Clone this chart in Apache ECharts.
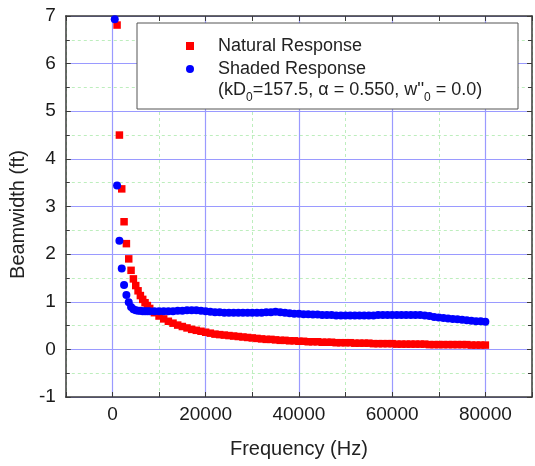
<!DOCTYPE html>
<html>
<head>
<meta charset="utf-8">
<script src="https://cdn.jsdelivr.net/npm/echarts@6/dist/echarts.min.js"></script>
<style>
html,body{margin:0;padding:0;background:#fff;}
#chart{width:535px;height:466px;}
</style>
</head>
<body>
<div id="chart"></div>
<script>
// Frequency (Hz) sample points
const freqs = [
  500,1000,1500,2000,2500,3000,3500,4000,4500,5000,5500,6000,6500,7000,7500,8000,
  9000,10000,11000,12000,13000,14000,15000,16000,
  17000,18000,19000,20000,21000,22000,23000,24000,
  25000,26000,27000,28000,29000,30000,31000,32000,
  33000,34000,35000,36000,37000,38000,39000,40000,
  41000,42000,43000,44000,45000,46000,47000,48000,
  49000,50000,51000,52000,53000,54000,55000,56000,
  57000,58000,59000,60000,61000,62000,63000,64000,
  65000,66000,67000,68000,69000,70000,71000,72000,
  73000,74000,75000,76000,77000,78000,79000,80000
];
// Natural Response beamwidth (ft)
const naturalValues = [
  null,6.81,4.50,3.37,2.68,2.22,1.90,1.66,1.48,1.34,1.23,1.13,1.05,0.98,0.92,0.86,
  0.77,0.70,0.64,0.59,0.55,0.51,0.48,0.45,
  0.42,0.40,0.38,0.36,0.34,0.32,0.31,0.30,
  0.29,0.28,0.27,0.26,0.25,0.24,0.23,0.22,
  0.21,0.21,0.20,0.19,0.19,0.18,0.18,0.17,
  0.17,0.16,0.16,0.16,0.15,0.15,0.15,0.14,
  0.14,0.14,0.14,0.13,0.13,0.13,0.13,0.12,
  0.12,0.12,0.12,0.12,0.11,0.11,0.11,0.11,
  0.11,0.11,0.11,0.10,0.10,0.10,0.10,0.10,
  0.10,0.10,0.10,0.10,0.09,0.09,0.09,0.09
];
// Shaded Response beamwidth (ft)
const shadedValues = [
  6.93,3.44,2.28,1.70,1.35,1.14,0.99,0.89,0.84,0.82,0.81,0.81,0.80,0.80,0.80,0.80,
  0.80,0.80,0.80,0.80,0.80,0.81,0.81,0.82,
  0.82,0.82,0.81,0.80,0.79,0.78,0.78,0.77,
  0.77,0.77,0.77,0.77,0.77,0.77,0.77,0.77,
  0.78,0.78,0.79,0.78,0.77,0.76,0.75,0.75,
  0.74,0.74,0.73,0.73,0.72,0.72,0.72,0.71,
  0.71,0.71,0.71,0.71,0.71,0.71,0.71,0.71,
  0.72,0.72,0.72,0.72,0.72,0.72,0.72,0.72,
  0.72,0.72,0.71,0.70,0.68,0.67,0.66,0.65,
  0.64,0.63,0.62,0.61,0.60,0.59,0.59,0.58
];
const seriesNames = ['Natural Response', 'Shaded Response'];
const xTickLabels = ['0','20000','40000','60000','80000'];
const xAxisTitle = 'Frequency (Hz)';
const yAxisTitle = 'Beamwidth (ft)';

const FONT = '"Liberation Sans", Arial, sans-serif';
const MAJOR = '#9a9aff';
const MINOR = '#bdeebd';
const FRAME = '#3a3a3a';

function pairs(vals){
  const out = [];
  freqs.forEach((f,i)=>{ if (vals[i] !== null) out.push([f, vals[i]]); });
  return out;
}

const chart = echarts.init(document.getElementById('chart'), null, {renderer:'canvas'});
const option = {
  animation: false,
  backgroundColor: '#fff',
  grid: {left: 63, right: 0, top: 16, bottom: 69, containLabel: false},
  xAxis: [
    {
      type: 'value', min: -10000, max: 90000, interval: 10000, position: 'bottom',
      name: xAxisTitle, nameLocation: 'middle', nameGap: 42,
      nameTextStyle: {fontSize: 20, color: '#222', fontFamily: FONT},
      axisLine: {show: true, onZero: false, lineStyle: {color: FRAME, width: 1.5}},
      axisTick: {show: true, inside: true, length: 5, lineStyle: {color: FRAME}},
      axisLabel: {
        margin: 8, fontSize: 19, color: '#1a1a1a', fontFamily: FONT,
        formatter: v => xTickLabels.indexOf(String(v)) >= 0 ? String(v) : ''
      },
      splitLine: {show: true, lineStyle: {color: ['rgba(0,0,0,0)', MAJOR], width: 1.2}}
    },
    {
      type: 'value', min: -10000, max: 90000, interval: 10000, position: 'top',
      axisLine: {show: true, onZero: false, lineStyle: {color: FRAME, width: 1.5}},
      axisTick: {show: true, inside: true, length: 5, lineStyle: {color: FRAME}},
      axisLabel: {show: false},
      splitLine: {show: true, lineStyle: {color: [MINOR, 'rgba(0,0,0,0)'], width: 1, type: [3,3]}}
    }
  ],
  yAxis: [
    {
      type: 'value', min: -1, max: 7, interval: 1, position: 'left',
      name: yAxisTitle, nameLocation: 'middle', nameGap: 36, nameRotate: 90,
      nameTextStyle: {fontSize: 20, color: '#222', fontFamily: FONT, padding: [0, 16, 0, 0]},
      axisLine: {show: true, onZero: false, lineStyle: {color: FRAME, width: 1.5}},
      axisTick: {show: true, inside: true, length: 5, lineStyle: {color: FRAME}},
      minorTick: {show: true, splitNumber: 2, length: 4, lineStyle: {color: FRAME}},
      axisLabel: {margin: 10, fontSize: 19, color: '#1a1a1a', fontFamily: FONT},
      splitLine: {show: true, lineStyle: {color: MAJOR, width: 1.2}},
      minorSplitLine: {show: true, lineStyle: {color: MINOR, width: 1, type: [3,3]}}
    },
    {
      type: 'value', min: -1, max: 7, interval: 1, position: 'right',
      axisLine: {show: true, onZero: false, lineStyle: {color: FRAME, width: 1.5}},
      axisTick: {show: true, inside: true, length: 5, lineStyle: {color: FRAME}},
      minorTick: {show: true, splitNumber: 2, length: 4, lineStyle: {color: FRAME}},
      axisLabel: {show: false},
      splitLine: {show: false}
    }
  ],
  legend: {
    orient: 'vertical', left: 181, top: 31, z: 20,
    itemWidth: 8, itemHeight: 8, itemGap: 3,
    textStyle: {fontSize: 18, color: '#222', fontFamily: FONT, lineHeight: 20, padding: [0,0,0,19]},
    data: [{name: seriesNames[0], icon: 'rect'}, {name: seriesNames[1], icon: 'circle'}]
  },
  graphic: [
    {
      type: 'rect', z: 10,
      shape: {x: 137, y: 23, width: 381, height: 86},
      style: {fill: '#fff', stroke: '#555', lineWidth: 1}
    },
    {
      type: 'text', z: 21, left: 218, top: 81,
      style: {
        text: '{n|(kD}{s|0}{n|=157.5, α = 0.550, w\'\'}{s|0}{n| = 0.0)}',
        rich: {
          n: {fontSize: 18, fontFamily: FONT, fill: '#222', lineHeight: 28, verticalAlign: 'middle'},
          s: {fontSize: 12, fontFamily: FONT, fill: '#222', lineHeight: 12, verticalAlign: 'bottom'}
        }
      }
    }
  ],
  series: [
    {
      name: seriesNames[0], type: 'scatter', xAxisIndex: 0, yAxisIndex: 0,
      symbol: 'rect', symbolSize: 7.5,
      itemStyle: {color: '#ff0000', opacity: 1},
      data: pairs(naturalValues), z: 3
    },
    {
      name: seriesNames[1], type: 'scatter', xAxisIndex: 0, yAxisIndex: 0,
      symbol: 'circle', symbolSize: 8,
      itemStyle: {color: '#0000ff', opacity: 1},
      data: pairs(shadedValues), z: 4
    }
  ]
};
chart.setOption(option);
</script>
</body>
</html>
